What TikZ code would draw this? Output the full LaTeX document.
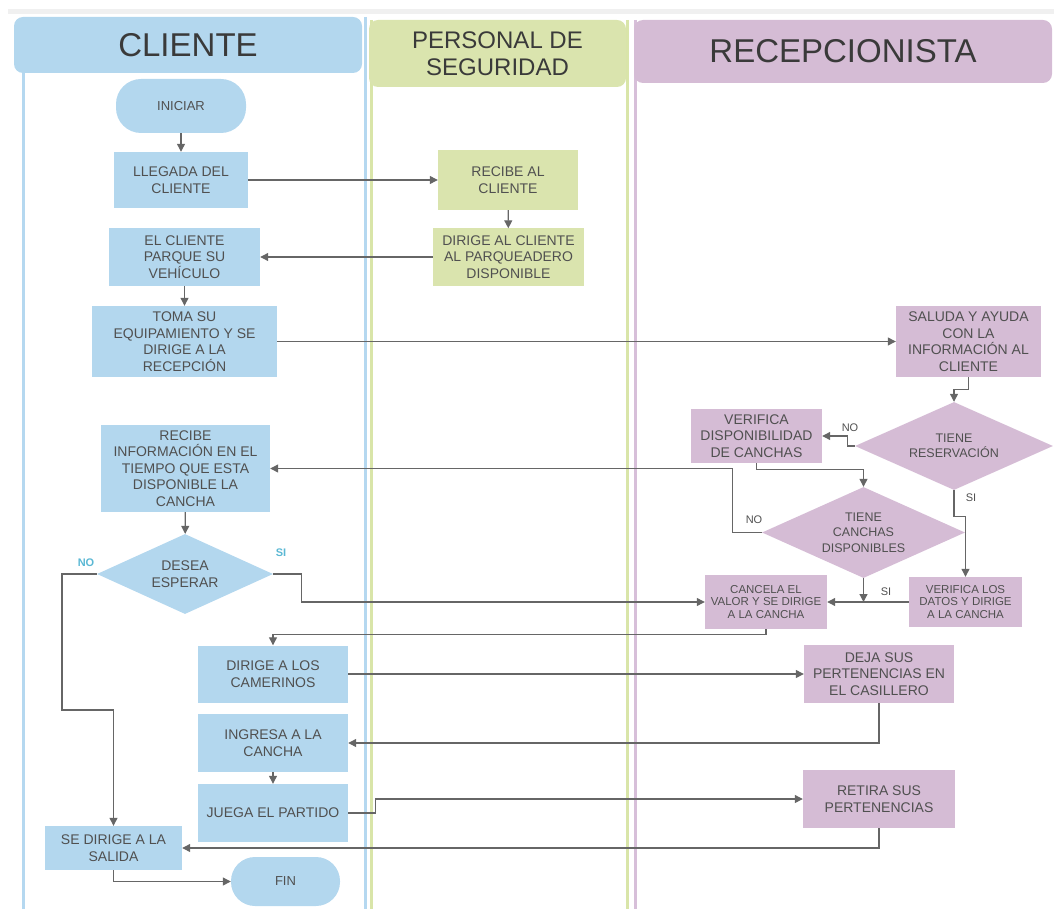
\documentclass[tikz,border=0pt]{standalone}
\usepackage{fontspec}
\setmainfont{Liberation Sans}
\usepackage{tikz}
\usetikzlibrary{arrows.meta, positioning, calc, shapes.geometric}
\usepackage{xcolor}
\definecolor{azul}{HTML}{B3D7EE}
\definecolor{verde}{HTML}{DAE4AE}
\definecolor{morado}{HTML}{D5BCD5}
\definecolor{azulc}{HTML}{B5D8F0}
\definecolor{verdec}{HTML}{D9E5A9}
\definecolor{moradoc}{HTML}{D7BFD9}
\definecolor{texto}{HTML}{505050}
\definecolor{titulo}{HTML}{3A3A3A}
\definecolor{gris}{HTML}{666666}
\definecolor{cian}{HTML}{5BB8D4}

\begin{document}
\begin{tikzpicture}[x=1pt, y=-1pt,
  txt/.style={text=texto, align=center, font=\fontsize{14}{16.5}\selectfont},
  chico/.style={font=\fontsize{11.5}{12.8}\selectfont},
  caja/.style={txt, rectangle, inner sep=1pt},
  pildora/.style={txt, rectangle, rounded corners=25pt, font=\fontsize{13}{15}\selectfont},
  rombo/.style={txt, diamond, inner sep=0pt, shape aspect=2.2, font=\fontsize{12.5}{15.5}\selectfont},
  cabeza/.style={rectangle, rounded corners=9pt, text=titulo, align=center},
  carril/.style={line width=3pt},
  flecha/.style={draw=gris, line width=1.2pt, -{Triangle[length=8pt,width=8pt]}},
  etiq/.style={text=texto, font=\fontsize{11}{12}\selectfont},
  etiqc/.style={text=cian, font=\bfseries\fontsize{11}{12}\selectfont}]
  \useasboundingbox (0,0) rectangle (1054,909);
  % carriles
  \fill[gray!12] (8,9) rectangle (1054,14);
  \draw[carril, draw=azulc] (23,73) -- (23,909);
  \draw[carril, draw=azulc] (365,17) -- (365,909);
  \draw[carril, draw=verdec] (371,20) -- (371,909);
  \draw[carril, draw=verdec] (627,20) -- (627,909);
  \draw[carril, draw=moradoc] (635,20) -- (635,909);
  % cabeceras
  \node[cabeza, fill=azul, minimum width=348, minimum height=56, font=\fontsize{33}{36}\selectfont] (hcliente) at (188,45) {CLIENTE};
  \node[cabeza, fill=verde, minimum width=257, minimum height=67, font=\fontsize{24}{27}\selectfont] (hseguridad) at (497.5,53.5) {PERSONAL DE\\SEGURIDAD};
  \node[cabeza, fill=morado, minimum width=418, minimum height=63, font=\fontsize{33}{36}\selectfont] (hrecepcion) at (843,51.5) {RECEPCIONISTA};
  % cliente
  \node[pildora, fill=azul, minimum width=130, minimum height=54] (iniciar) at (181,106) {INICIAR};
  \node[caja, fill=azul, minimum width=134, minimum height=56] (llegada) at (181,180) {LLEGADA DEL\\CLIENTE};
  \node[caja, fill=azul, minimum width=151, minimum height=58] (parquea) at (184.5,257) {EL CLIENTE\\PARQUE SU\\VEHÍCULO};
  \node[caja, fill=azul, minimum width=185, minimum height=71] (toma) at (184.5,341.5) {TOMA SU\\EQUIPAMIENTO Y SE\\DIRIGE A LA\\RECEPCIÓN};
  \node[caja, fill=azul, minimum width=169, minimum height=87] (infocancha) at (185.5,468.5) {RECIBE\\INFORMACIÓN EN EL\\TIEMPO QUE ESTA\\DISPONIBLE LA\\CANCHA};
  \node[rombo, fill=azul, minimum width=176, minimum height=80, font=\fontsize{14}{16.5}\selectfont] (espera) at (185,574) {DESEA\\ESPERAR};
  \node[caja, fill=azul, minimum width=150, minimum height=57] (camerinos) at (273,674) {DIRIGE A LOS\\CAMERINOS};
  \node[caja, fill=azul, minimum width=150, minimum height=58] (ingresa) at (273,743) {INGRESA A LA\\CANCHA};
  \node[caja, fill=azul, minimum width=150, minimum height=58] (juega) at (273,813) {JUEGA EL PARTIDO};
  \node[caja, fill=azul, minimum width=137, minimum height=44] (salida) at (113.5,848) {SE DIRIGE A LA\\SALIDA};
  \node[pildora, fill=azul, minimum width=109, minimum height=49, rounded corners=24pt] (fin) at (285.5,881.5) {FIN};
  % seguridad
  \node[caja, fill=verde, minimum width=140, minimum height=60] (recibe) at (508,180) {RECIBE AL\\CLIENTE};
  \node[caja, fill=verde, minimum width=151, minimum height=57] (dirige) at (508.5,257) {DIRIGE AL CLIENTE\\AL PARQUEADERO\\DISPONIBLE};
  % recepcionista
  \node[caja, fill=morado, minimum width=145, minimum height=71] (saluda) at (968.5,341.5) {SALUDA Y AYUDA\\CON LA\\INFORMACIÓN AL\\CLIENTE};
  \node[rombo, fill=morado, minimum width=198, minimum height=88] (reserva) at (954,446) {TIENE\\RESERVACIÓN};
  \node[caja, fill=morado, minimum width=131, minimum height=54] (verdisp) at (756.5,436) {VERIFICA\\DISPONIBILIDAD\\DE CANCHAS};
  \node[rombo, fill=morado, minimum width=203, minimum height=91] (canchas) at (863.5,532.5) {TIENE\\CANCHAS\\DISPONIBLES};
  \node[caja, chico, fill=morado, minimum width=113, minimum height=50] (verdatos) at (965.5,602) {VERIFICA LOS\\DATOS Y DIRIGE\\A LA CANCHA};
  \node[caja, chico, fill=morado, minimum width=122, minimum height=54] (cancela) at (766,602) {CANCELA EL\\VALOR Y SE DIRIGE\\A LA CANCHA};
  \node[caja, fill=morado, minimum width=150, minimum height=58] (casillero) at (879,674) {DEJA SUS\\PERTENENCIAS EN\\EL CASILLERO};
  \node[caja, fill=morado, minimum width=152, minimum height=58] (retira) at (879,799) {RETIRA SUS\\PERTENENCIAS};
  % etiquetas
  \node[etiqc] (no1) at (86,563) {NO};
  \node[etiqc] (si1) at (281,553) {SI};
  \node[etiq] (no2) at (850,428) {NO};
  \node[etiq] (si2) at (971,498) {SI};
  \node[etiq] (no3) at (754,520) {NO};
  \node[etiq] (si3) at (886,592) {SI};
  % conectores
  \draw[flecha] (iniciar) -- (llegada);
  \draw[flecha] (llegada) -- (recibe);
  \draw[flecha] (recibe) -- (dirige);
  \draw[flecha] (dirige) -- (parquea);
  \draw[flecha] (parquea) -- (toma);
  \draw[flecha] (toma) -- (saluda);
  \draw[flecha] (saluda.south) -- ++(0,12) -| (reserva.north);
  \draw[flecha] (reserva.west) -- ++(-7,0) |- (verdisp.east);
  \draw[flecha] (reserva.south) -- ++(0,26) -| (verdatos.north);
  \draw[flecha] (verdisp.south) -- ++(0,6) -| (canchas.north);
  \draw[flecha] (canchas.west) -- ++(-29,0) |- (infocancha.east);
  \coordinate (cruce) at (canchas.south |- cancela.east);
  \draw[flecha] (canchas.south) -- (cruce);
  \draw[flecha] (verdatos) -- (cancela);
  \draw[flecha] (infocancha) -- (espera);
  \draw[flecha] (espera.east) -- ++(28,0) |- (cancela.west);
  \draw[flecha] (cancela.south) -- ++(0,5) -| (camerinos.north);
  \coordinate (desvio) at (62,710);
  \draw[flecha] (espera.west) -| (desvio) -| (salida.north);
  \draw[flecha] (camerinos) -- (casillero);
  \draw[flecha] (casillero.south) |- (ingresa.east);
  \draw[flecha] (ingresa) -- (juega);
  \draw[flecha] (juega.east) -- ++(27,0) |- (retira.west);
  \draw[flecha] (retira.south) |- (salida.east);
  \draw[flecha] (salida.south) |- (fin.west);
\end{tikzpicture}
\end{document}
